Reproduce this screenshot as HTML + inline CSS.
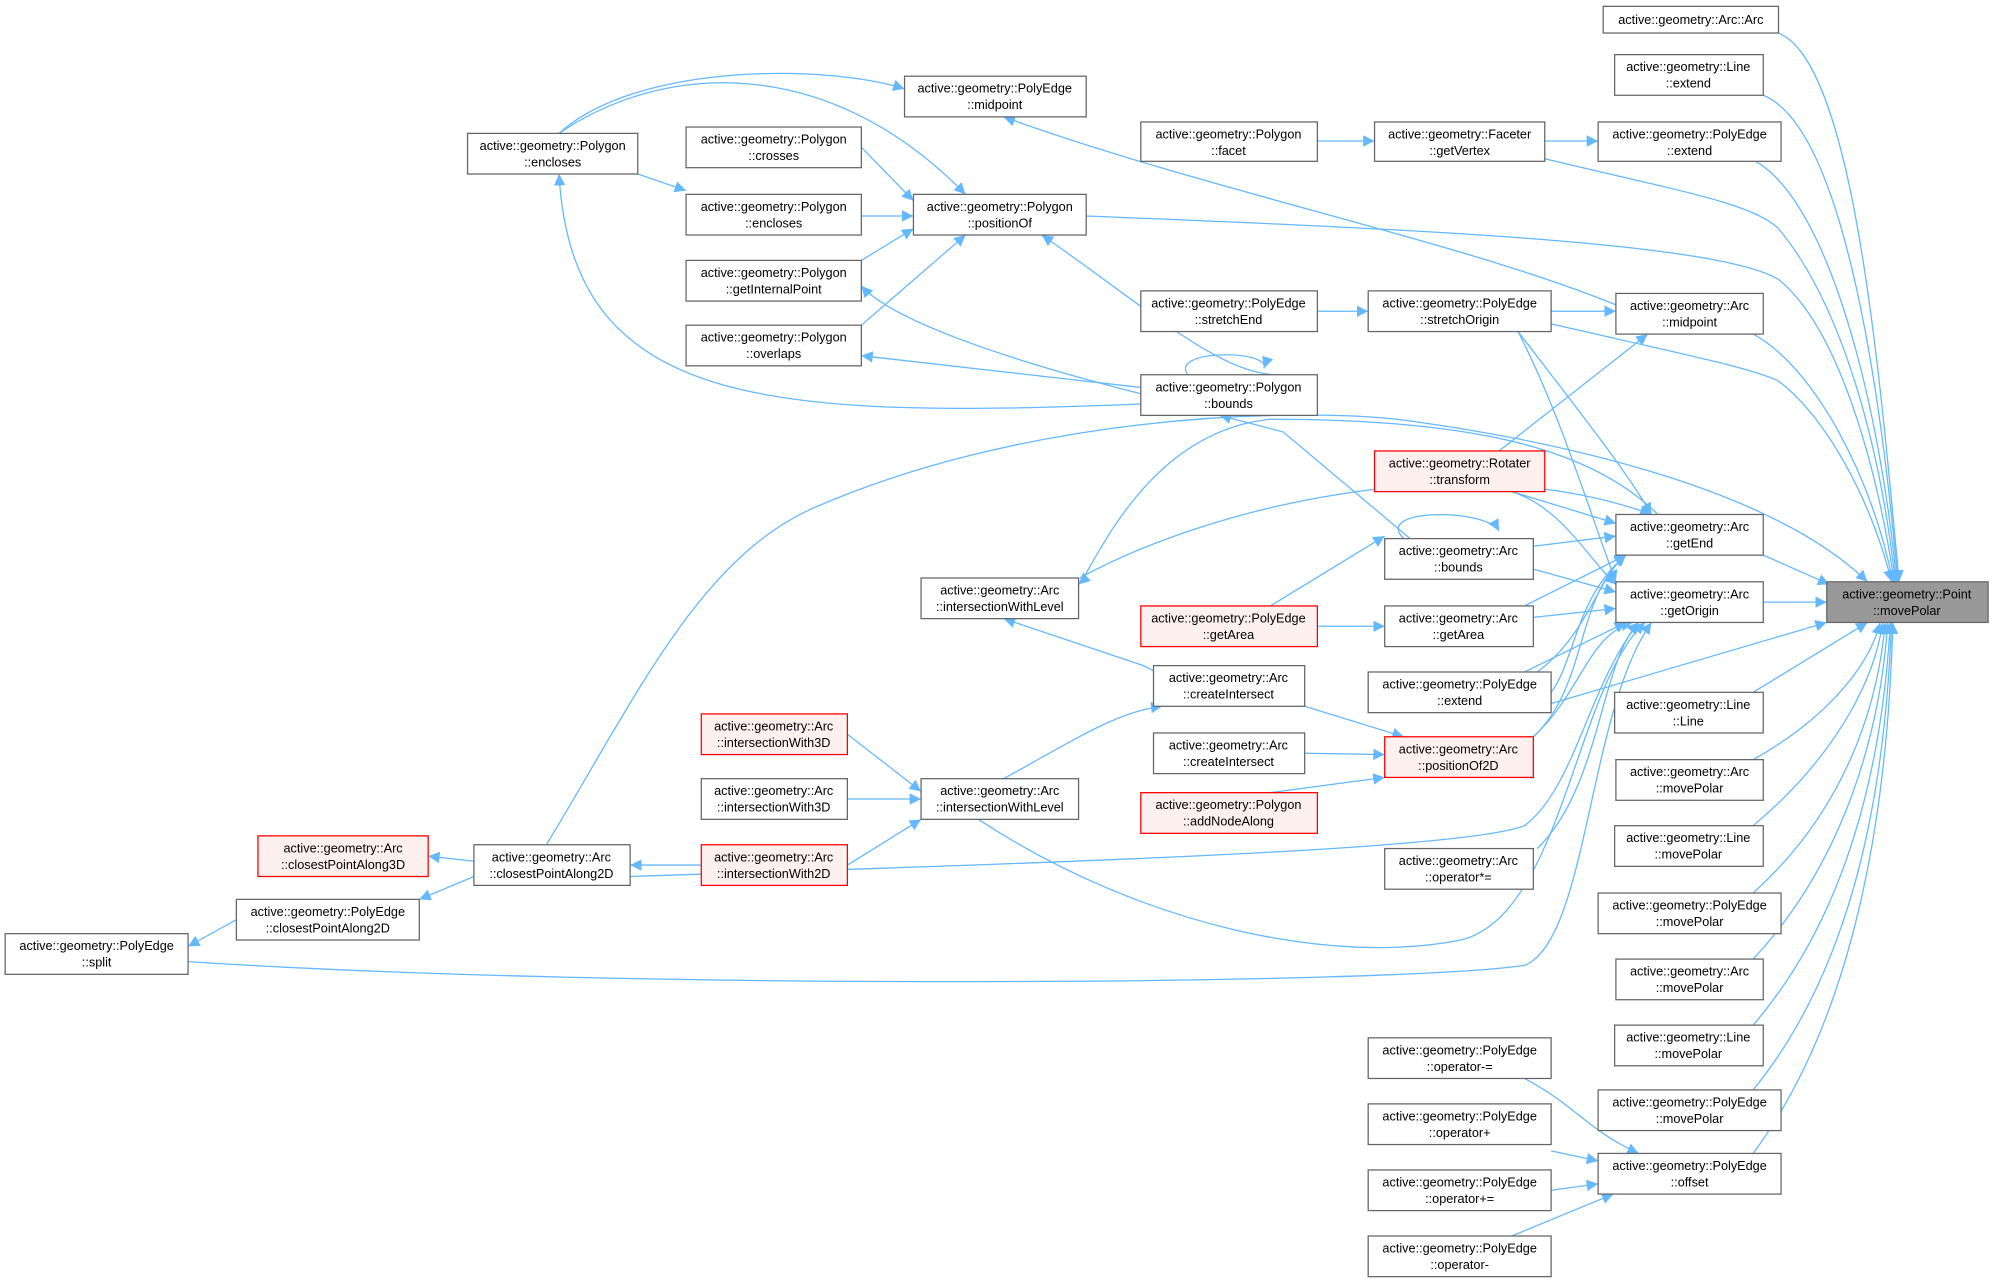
<!DOCTYPE html>
<html><head><meta charset="utf-8"><style>
html,body{margin:0;padding:0;background:#fff;}
svg{display:block;}
text{font-family:"Liberation Sans",sans-serif;font-size:10px;fill:#000;text-anchor:middle;}
.n{fill:#fff;stroke:#666;stroke-width:1;}
.r{fill:#fff0f0;stroke:#f00;stroke-width:1;}
.g{fill:#999;stroke:#666;stroke-width:1;}
.e{fill:none;stroke:#63b8ff;stroke-width:1;marker-end:url(#a);}
</style></head><body>
<svg width="1992" height="1283" viewBox="0 0 1568 1010" xmlns="http://www.w3.org/2000/svg">
<defs><marker id="a" viewBox="0 0 10 10" refX="10" refY="5" markerWidth="9" markerHeight="9" orient="auto" markerUnits="userSpaceOnUse"><path d="M0,0L10,5L0,10z" fill="#63b8ff"/></marker></defs>

<!-- edges into movePolar -->
<path class="e" d="M1400,26 C1460,50 1480,300 1495,458"/>
<path class="e" d="M1388,75 C1450,100 1480,300 1494,458"/>
<path class="e" d="M1382,127 C1440,160 1480,320 1493,458"/>
<path class="e" d="M1216,125 C1320,150 1380,160 1400,180 C1450,240 1480,350 1492,458"/>
<path class="e" d="M855,170 C1100,180 1350,190 1400,220 C1450,260 1480,380 1491,458"/>
<path class="e" d="M1380,263 C1430,290 1475,380 1490,458"/>
<path class="e" d="M1221,255 C1330,280 1380,290 1400,300 C1440,330 1475,400 1489,458"/>
<path class="e" d="M1388,437 L1440,460"/>
<path class="e" d="M1388,474 L1438,474"/>
<path class="e" d="M430,665 C500,550 550,440 640,400 C800,330 1000,320 1100,330 C1250,350 1400,390 1470,458"/>
<path class="e" d="M1200,560 L1438,490"/>
<path class="e" d="M1380,545 L1470,490"/>
<path class="e" d="M1380,598 C1430,570 1470,530 1480,490"/>
<path class="e" d="M1380,650 C1440,600 1475,540 1482,490"/>
<path class="e" d="M1380,703 C1450,640 1478,560 1484,490"/>
<path class="e" d="M1380,755 C1450,680 1480,580 1486,490"/>
<path class="e" d="M1380,807 C1455,720 1482,600 1488,490"/>
<path class="e" d="M1380,858 C1460,760 1484,620 1489,490"/>
<path class="e" d="M1380,908 C1460,800 1486,640 1490,490"/>

<!-- edges into getEnd/getOrigin -->
<path class="e" d="M1221,245 L1272,245"/>
<path class="e" d="M1180,355 L1297,263"/>
<path class="e" d="M1195,261 C1240,320 1280,370 1300,405"/>
<path class="e" d="M1195,261 C1230,330 1250,400 1272,458"/>
<path class="e" d="M1190,387 L1272,412"/>
<path class="e" d="M1190,387 C1230,400 1250,440 1272,460"/>
<path class="e" d="M1207,430 L1272,422"/>
<path class="e" d="M1207,448 L1272,466"/>
<path class="e" d="M1200,477 L1280,437"/>
<path class="e" d="M1207,486 L1272,479"/>
<path class="e" d="M1200,529 L1280,490"/>
<path class="e" d="M1210,529 C1250,500 1260,450 1280,437"/>
<path class="e" d="M1207,580 C1250,540 1240,470 1280,437"/>
<path class="e" d="M1207,580 C1245,545 1250,500 1285,490"/>
<path class="e" d="M1210,668 C1260,620 1260,520 1290,490"/>
<path class="e" d="M1221,545 C1240,520 1240,470 1280,437"/>
<path class="e" d="M496,690 C800,680 1150,670 1200,650 C1240,620 1250,540 1290,490"/>
<path class="e" d="M770,645 C900,730 1050,760 1150,740 C1230,720 1240,540 1295,490"/>
<path class="e" d="M148,757 C500,780 1100,775 1200,760 C1250,740 1250,560 1300,490"/>
<path class="e" d="M1305,405 C1250,350 1150,330 1000,330 C900,340 860,450 849,460"/>
<path class="e" d="M850,455 C950,400 1150,350 1300,405"/>

<!-- Faceter / stretch -->
<path class="e" d="M1037,111 L1082,111"/>
<path class="e" d="M1216,111 L1258,111"/>
<path class="e" d="M1037,245 L1077,245"/>
<path class="e" d="M1272,240 C1150,190 950,150 790,92"/>

<!-- bounds -->
<path class="e" d="M1110,424 L1010,340 L960,327"/>
<path class="e" d="M1105,424 C1080,400 1170,400 1180,418"/>
<path class="e" d="M935,295 C920,275 1000,275 995,290"/>
<path class="e" d="M898,305 L678,280"/>
<path class="e" d="M898,310 C780,280 700,250 678,225"/>
<path class="e" d="M898,318 C600,330 450,320 440,137"/>
<path class="e" d="M1000,477 L1090,422"/>
<path class="e" d="M1005,295 C960,295 900,240 820,185"/>

<!-- positionOf callers -->
<path class="e" d="M678,116 L719,158"/>
<path class="e" d="M678,170 L719,170"/>
<path class="e" d="M678,205 L719,180"/>
<path class="e" d="M678,256 L760,185"/>
<path class="e" d="M440,105 C520,50 650,40 760,153"/>
<path class="e" d="M440,105 C500,50 650,50 712,70"/>
<path class="e" d="M502,137 L540,150"/>

<!-- arc intersection area -->
<path class="e" d="M1037,493 L1090,493"/>
<path class="e" d="M1027,556 L1105,580"/>
<path class="e" d="M1027,593 L1090,594"/>
<path class="e" d="M1000,624 L1090,612"/>
<path class="e" d="M908,528 L900,524 L790,487"/>
<path class="e" d="M790,613 C850,580 880,560 915,556"/>
<path class="e" d="M667,578 L725,623"/>
<path class="e" d="M667,629 L725,629"/>
<path class="e" d="M667,681 L725,645"/>
<path class="e" d="M552,681 L496,681"/>
<path class="e" d="M373,678 L337,674"/>
<path class="e" d="M373,690 L330,708"/>
<path class="e" d="M186,724 L148,745"/>

<!-- offset callers -->
<path class="e" d="M1200,849 C1240,870 1250,890 1290,908"/>
<path class="e" d="M1221,906 L1258,914"/>
<path class="e" d="M1221,937 L1258,932"/>
<path class="e" d="M1190,973 L1270,940"/>

<!-- nodes -->
<rect class="n" x="1262" y="5" width="138" height="21"/><text x="1331" y="19">active::geometry::Arc::Arc</text>
<rect class="n" x="1271" y="43" width="117" height="32"/><text x="1329" y="56">active::geometry::Line</text><text x="1329" y="69">::extend</text>
<rect class="n" x="1258" y="96" width="144" height="31"/><text x="1330" y="109">active::geometry::PolyEdge</text><text x="1330" y="122">::extend</text>
<rect class="n" x="1272" y="231" width="116" height="32"/><text x="1330" y="244">active::geometry::Arc</text><text x="1330" y="257">::midpoint</text>
<rect class="n" x="1272" y="405" width="116" height="32"/><text x="1330" y="418">active::geometry::Arc</text><text x="1330" y="431">::getEnd</text>
<rect class="n" x="1272" y="458" width="116" height="32"/><text x="1330" y="471">active::geometry::Arc</text><text x="1330" y="484">::getOrigin</text>
<rect class="g" x="1438" y="458" width="127" height="32"/><text x="1501" y="471">active::geometry::Point</text><text x="1501" y="484">::movePolar</text>
<rect class="n" x="1271" y="545" width="117" height="32"/><text x="1329" y="558">active::geometry::Line</text><text x="1329" y="571">::Line</text>
<rect class="n" x="1272" y="598" width="116" height="32"/><text x="1330" y="611">active::geometry::Arc</text><text x="1330" y="624">::movePolar</text>
<rect class="n" x="1271" y="650" width="117" height="32"/><text x="1329" y="663">active::geometry::Line</text><text x="1329" y="676">::movePolar</text>
<rect class="n" x="1258" y="703" width="144" height="32"/><text x="1330" y="716">active::geometry::PolyEdge</text><text x="1330" y="729">::movePolar</text>
<rect class="n" x="1272" y="755" width="116" height="32"/><text x="1330" y="768">active::geometry::Arc</text><text x="1330" y="781">::movePolar</text>
<rect class="n" x="1271" y="807" width="117" height="32"/><text x="1329" y="820">active::geometry::Line</text><text x="1329" y="833">::movePolar</text>
<rect class="n" x="1258" y="858" width="144" height="32"/><text x="1330" y="871">active::geometry::PolyEdge</text><text x="1330" y="884">::movePolar</text>
<rect class="n" x="1258" y="908" width="144" height="32"/><text x="1330" y="921">active::geometry::PolyEdge</text><text x="1330" y="934">::offset</text>

<rect class="n" x="1082" y="96" width="134" height="31"/><text x="1149" y="109">active::geometry::Faceter</text><text x="1149" y="122">::getVertex</text>
<rect class="n" x="1077" y="229" width="144" height="32"/><text x="1149" y="242">active::geometry::PolyEdge</text><text x="1149" y="255">::stretchOrigin</text>
<rect class="r" x="1082" y="355" width="134" height="32"/><text x="1149" y="368">active::geometry::Rotater</text><text x="1149" y="381">::transform</text>
<rect class="n" x="1090" y="424" width="117" height="32"/><text x="1148" y="437">active::geometry::Arc</text><text x="1148" y="450">::bounds</text>
<rect class="n" x="1090" y="477" width="117" height="32"/><text x="1148" y="490">active::geometry::Arc</text><text x="1148" y="503">::getArea</text>
<rect class="n" x="1077" y="529" width="144" height="32"/><text x="1149" y="542">active::geometry::PolyEdge</text><text x="1149" y="555">::extend</text>
<rect class="r" x="1090" y="580" width="117" height="32"/><text x="1148" y="593">active::geometry::Arc</text><text x="1148" y="606">::positionOf2D</text>
<rect class="n" x="1090" y="668" width="117" height="32"/><text x="1148" y="681">active::geometry::Arc</text><text x="1148" y="694">::operator*=</text>
<rect class="n" x="1077" y="817" width="144" height="32"/><text x="1149" y="830">active::geometry::PolyEdge</text><text x="1149" y="843">::operator-=</text>
<rect class="n" x="1077" y="869" width="144" height="32"/><text x="1149" y="882">active::geometry::PolyEdge</text><text x="1149" y="895">::operator+</text>
<rect class="n" x="1077" y="921" width="144" height="32"/><text x="1149" y="934">active::geometry::PolyEdge</text><text x="1149" y="947">::operator+=</text>
<rect class="n" x="1077" y="973" width="144" height="32"/><text x="1149" y="986">active::geometry::PolyEdge</text><text x="1149" y="999">::operator-</text>

<rect class="n" x="898" y="96" width="139" height="31"/><text x="967" y="109">active::geometry::Polygon</text><text x="967" y="122">::facet</text>
<rect class="n" x="898" y="229" width="139" height="32"/><text x="967" y="242">active::geometry::PolyEdge</text><text x="967" y="255">::stretchEnd</text>
<rect class="n" x="898" y="295" width="139" height="32"/><text x="967" y="308">active::geometry::Polygon</text><text x="967" y="321">::bounds</text>
<rect class="r" x="898" y="477" width="139" height="32"/><text x="967" y="490">active::geometry::PolyEdge</text><text x="967" y="503">::getArea</text>
<rect class="n" x="908" y="524" width="119" height="32"/><text x="967" y="537">active::geometry::Arc</text><text x="967" y="550">::createIntersect</text>
<rect class="n" x="908" y="577" width="119" height="32"/><text x="967" y="590">active::geometry::Arc</text><text x="967" y="603">::createIntersect</text>
<rect class="r" x="898" y="624" width="139" height="32"/><text x="967" y="637">active::geometry::Polygon</text><text x="967" y="650">::addNodeAlong</text>

<rect class="n" x="712" y="60" width="143" height="32"/><text x="783" y="73">active::geometry::PolyEdge</text><text x="783" y="86">::midpoint</text>
<rect class="n" x="719" y="153" width="136" height="32"/><text x="787" y="166">active::geometry::Polygon</text><text x="787" y="179">::positionOf</text>
<rect class="n" x="725" y="455" width="124" height="32"/><text x="787" y="468">active::geometry::Arc</text><text x="787" y="481">::intersectionWithLevel</text>
<rect class="n" x="725" y="613" width="124" height="32"/><text x="787" y="626">active::geometry::Arc</text><text x="787" y="639">::intersectionWithLevel</text>

<rect class="n" x="540" y="100" width="138" height="32"/><text x="609" y="113">active::geometry::Polygon</text><text x="609" y="126">::crosses</text>
<rect class="n" x="540" y="153" width="138" height="32"/><text x="609" y="166">active::geometry::Polygon</text><text x="609" y="179">::encloses</text>
<rect class="n" x="540" y="205" width="138" height="32"/><text x="609" y="218">active::geometry::Polygon</text><text x="609" y="231">::getInternalPoint</text>
<rect class="n" x="540" y="256" width="138" height="32"/><text x="609" y="269">active::geometry::Polygon</text><text x="609" y="282">::overlaps</text>
<rect class="r" x="552" y="562" width="115" height="32"/><text x="609" y="575">active::geometry::Arc</text><text x="609" y="588">::intersectionWith3D</text>
<rect class="n" x="552" y="613" width="115" height="32"/><text x="609" y="626">active::geometry::Arc</text><text x="609" y="639">::intersectionWith3D</text>
<rect class="r" x="552" y="665" width="115" height="32"/><text x="609" y="678">active::geometry::Arc</text><text x="609" y="691">::intersectionWith2D</text>

<rect class="n" x="368" y="105" width="134" height="32"/><text x="435" y="118">active::geometry::Polygon</text><text x="435" y="131">::encloses</text>
<rect class="n" x="373" y="665" width="123" height="32"/><text x="434" y="678">active::geometry::Arc</text><text x="434" y="691">::closestPointAlong2D</text>
<rect class="r" x="203" y="658" width="134" height="32"/><text x="270" y="671">active::geometry::Arc</text><text x="270" y="684">::closestPointAlong3D</text>
<rect class="n" x="186" y="708" width="144" height="32"/><text x="258" y="721">active::geometry::PolyEdge</text><text x="258" y="734">::closestPointAlong2D</text>
<rect class="n" x="4" y="735" width="144" height="32"/><text x="76" y="748">active::geometry::PolyEdge</text><text x="76" y="761">::split</text>
</svg>
</body></html>
